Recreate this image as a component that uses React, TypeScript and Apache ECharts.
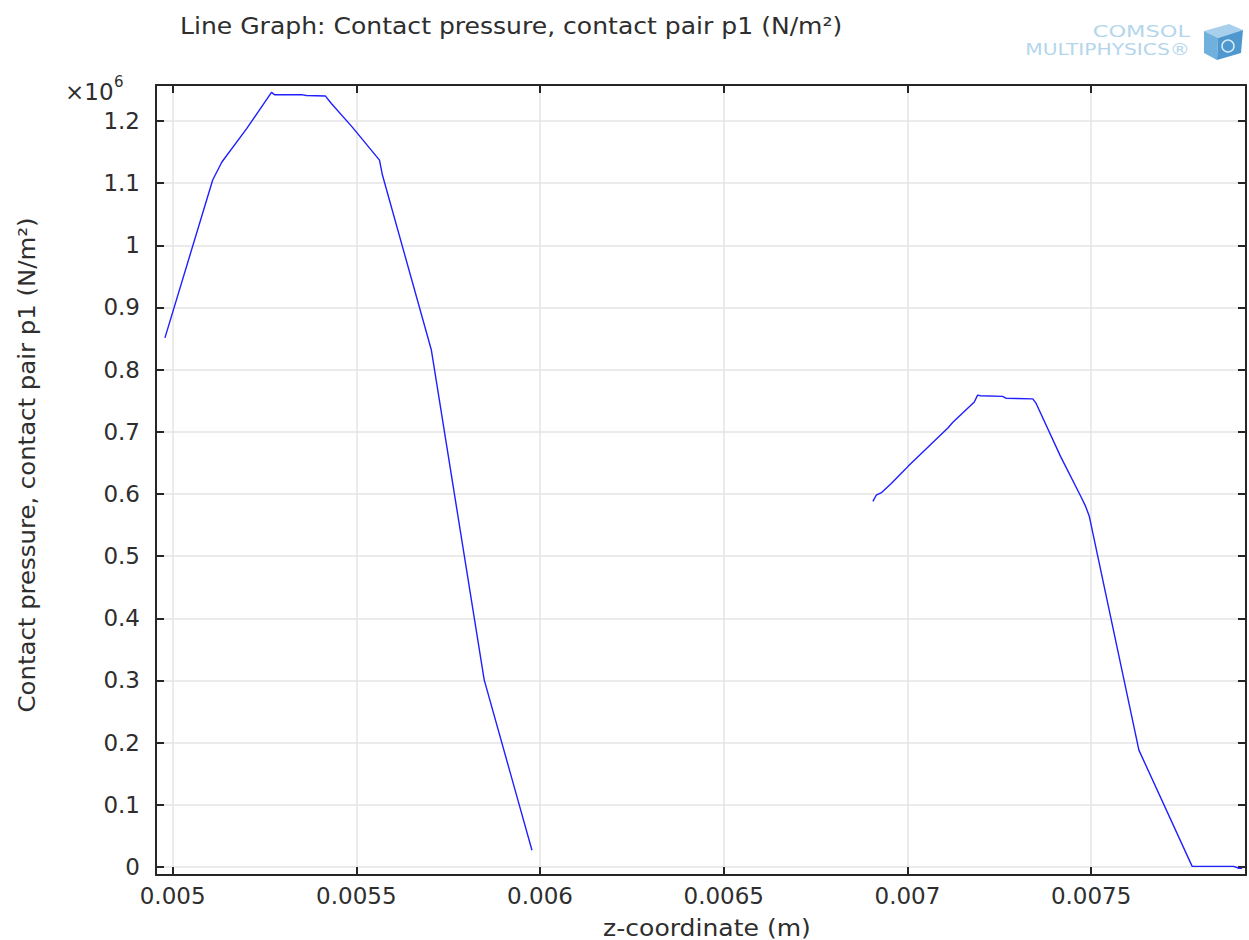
import React, { useEffect, useRef } from "react";
import * as echarts from "echarts";

// z-coordinate (m) and contact pressure (N/m²), first contact region
const zCoord1 = [0.004979, 0.005109, 0.005134, 0.005202, 0.005269, 0.005278, 0.005354, 0.005364, 0.005416, 0.005432, 0.005489, 0.005563, 0.005571, 0.005704, 0.005848, 0.005978];
const pressure1 = [851000, 1105000, 1134000, 1188000, 1246000, 1242000, 1242000, 1241000, 1240000, 1228000, 1190000, 1137000, 1113000, 832000, 301000, 27000];

// second contact region
const zCoord2 = [0.006906, 0.006915, 0.006929, 0.006956, 0.006988, 0.007001, 0.00711, 0.007123, 0.007182, 0.007191, 0.007199, 0.007259, 0.007268, 0.007341, 0.00735, 0.007417, 0.007472, 0.007485, 0.007495, 0.00763, 0.007775, 0.007888, 0.007902, 0.007911];
const pressure2 = [588000, 598000, 602000, 617000, 636000, 644000, 706000, 715000, 748000, 759000, 758000, 757000, 754000, 753000, 746000, 660000, 596000, 580000, 564000, 188000, 1000, 1000, -2000, -2000];

const xTickLabels = ["0.005", "0.0055", "0.006", "0.0065", "0.007", "0.0075"];
const yTickLabels = ["0", "0.1", "0.2", "0.3", "0.4", "0.5", "0.6", "0.7", "0.8", "0.9", "1", "1.1", "1.2"];

const X_MIN = 0.0049547;
const X_MAX = 0.0079215;
const X_STEP = 0.0005;
const Y_MIN = -12870;
const Y_MAX = 1257800;
const Y_STEP = 100000;

const FONT = "DejaVu Sans";
const AXIS_COLOR = "#262626";
const TEXT_COLOR = "#2e2e2e";
const LOGO_COLOR = "#b4d6ec";

function fmtX(v: number): string {
  const k = (v - 0.005) / X_STEP;
  const r = Math.round(k);
  if (Math.abs(k - r) > 1e-4 || r < 0 || r >= xTickLabels.length) return "";
  return xTickLabels[r];
}
function fmtY(v: number): string {
  const k = v / Y_STEP;
  const r = Math.round(k);
  if (Math.abs(k - r) > 1e-4 || r < 0 || r >= yTickLabels.length) return "";
  return yTickLabels[r];
}

function txt(text: string, x: number, y: number, size: number, align: string, extra: any = {}, fill = TEXT_COLOR) {
  return {
    type: "text",
    x,
    y,
    ...extra,
    style: {
      text,
      fontFamily: FONT,
      fontSize: size,
      fill,
      align,
      textAlign: align,
      verticalAlign: "middle",
      textVerticalAlign: "middle",
    },
  };
}

export default function App() {
  const ref = useRef<HTMLDivElement>(null);
  useEffect(() => {
    if (!ref.current) return;
    const chart = echarts.init(ref.current, undefined, { renderer: "svg" });
    const tickStyle = { color: AXIS_COLOR, width: 2 };
    const xBase = {
      type: "value",
      min: X_MIN,
      max: X_MAX,
      minInterval: X_STEP,
      maxInterval: X_STEP,
      splitNumber: 6,
      axisLine: { show: true, onZero: false, lineStyle: tickStyle },
      axisTick: { show: true, inside: true, length: 8, lineStyle: tickStyle },
    };
    const yBase = {
      type: "value",
      min: Y_MIN,
      max: Y_MAX,
      minInterval: Y_STEP,
      maxInterval: Y_STEP,
      splitNumber: 12,
      axisLine: { show: true, onZero: false, lineStyle: tickStyle },
      axisTick: { show: true, inside: true, length: 8, lineStyle: tickStyle },
    };
    const option: any = {
      animation: false,
      backgroundColor: "#ffffff",
      grid: { left: 156, top: 85, right: 0, bottom: 65, containLabel: false },
      xAxis: [
        {
          ...xBase,
          position: "bottom",
          axisLabel: { show: true, margin: 9, color: TEXT_COLOR, fontFamily: FONT, fontSize: 23, formatter: fmtX },
          splitLine: { show: true, lineStyle: { color: "#e4e4e4", width: 1.5 } },
        },
        {
          ...xBase,
          position: "top",
          axisLabel: { show: false },
          splitLine: { show: false },
        },
      ],
      yAxis: [
        {
          ...yBase,
          position: "left",
          axisLabel: { show: true, margin: 16, color: TEXT_COLOR, fontFamily: FONT, fontSize: 23, formatter: fmtY },
          splitLine: { show: true, lineStyle: { color: "#e4e4e4", width: 1.5 } },
        },
        {
          ...yBase,
          position: "right",
          axisLabel: { show: false },
          splitLine: { show: false },
        },
      ],
      series: [
        {
          type: "line",
          xAxisIndex: 0,
          yAxisIndex: 0,
          showSymbol: false,
          symbol: "none",
          lineStyle: { color: "#1f1fff", width: 1.4 },
          data: zCoord1.map((z, i) => [z, pressure1[i]]),
        },
        {
          type: "line",
          xAxisIndex: 0,
          yAxisIndex: 0,
          showSymbol: false,
          symbol: "none",
          lineStyle: { color: "#1f1fff", width: 1.4 },
          data: zCoord2.map((z, i) => [z, pressure2[i]]),
        },
      ],
      graphic: [
        txt("Line Graph: Contact pressure, contact pair p1 (N/m²)", 180, 26, 23, "left", { scaleX: 1.09 }),
        txt("Contact pressure, contact pair p1 (N/m²)", 27, 465, 23, "center", { rotation: Math.PI / 2, scaleX: 1.06 }),
        txt("z-coordinate (m)", 707, 928, 23, "center", { scaleX: 1.09 }),
        txt("×10", 65, 92, 23, "left"),
        txt("6", 114, 82, 15, "left"),
        txt("COMSOL", 1190, 32, 15, "right", { scaleX: 1.5 }, LOGO_COLOR),
        txt("MULTIPHYSICS®", 1190, 50, 15, "right", { scaleX: 1.35 }, LOGO_COLOR),
        {
          type: "polygon",
          shape: { points: [[1204, 31], [1229, 24], [1243, 30], [1218, 38]] },
          style: { fill: "#a8d0ec" },
        },
        {
          type: "polygon",
          shape: { points: [[1204, 31], [1218, 38], [1217, 60], [1204, 53]] },
          style: { fill: "#6fb0dc" },
        },
        {
          type: "polygon",
          shape: { points: [[1218, 38], [1243, 30], [1241, 53], [1217, 60]] },
          style: { fill: "#4f98cf" },
        },
        {
          type: "circle",
          shape: { cx: 1228, cy: 46, r: 6 },
          style: { fill: "none", stroke: "#d6ebf7", lineWidth: 1.5 },
        },
      ],
    };
    chart.setOption(option);
    return () => chart.dispose();
  }, []);
  return (
    <div
      ref={ref}
      style={{ position: "absolute", left: 0, top: 0, width: 1249, height: 940 }}
    />
  );
}
